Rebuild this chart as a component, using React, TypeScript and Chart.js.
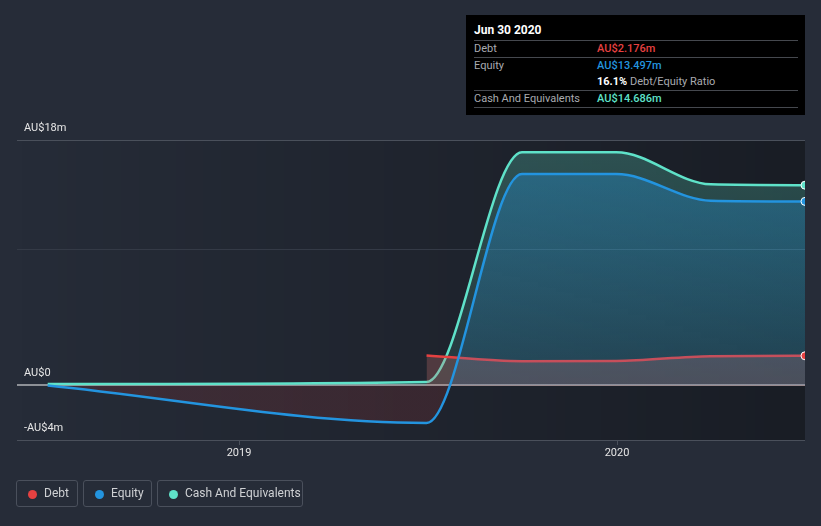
import React, { useEffect, useRef } from "react";
import { Chart, registerables } from "chart.js";

Chart.register(...registerables);

// ---- data ----
const dates = [2018.496, 2019.496, 2019.748, 2019.997, 2020.246, 2020.495];
const debtValues: (number | null)[] = [null, 2.2, 1.78, 1.8, 2.15, 2.176];
const equityValues = [0, -2.75, 15.5, 15.5, 13.55, 13.497];
const cashValues = [0.1, 0.25, 17.1, 17.1, 14.75, 14.686];

const yGridValues = [18, 10, 0, -4];
const yLabelValues = [18, 0, -4];
const yLabelTexts = ["AU$18m", "AU$0", "-AU$4m"];
const xTickValues = [2019, 2020];
const xTickLabels = ["2019", "2020"];

const X_MIN = 2018.415;
const X_MAX = 2020.495;
const Y_MIN = -4;
const Y_MAX = 18;

const DEBT_COLOR = "#e64141";
const EQUITY_COLOR = "#2394df";
const CASH_COLOR = "#5fe2c9";
const FONT = "Roboto, 'Open Sans', sans-serif";

const toPoints = (vals: (number | null)[]) => dates.map((d, i) => ({ x: d, y: vals[i] }));
const lastOnly = (r: number) => dates.map((_, i) => (i === dates.length - 1 ? r : 0));
const lastValueOnly = (vals: (number | null)[]) =>
  dates.map((d, i) => ({ x: d, y: i === dates.length - 1 ? vals[i] : null }));

// vertical gradient helper: stops given as [value, rgba string]
function vGradient(ctxArg: any, stops: [number, string][], fallback: string) {
  const chart = ctxArg.chart;
  const a = chart.chartArea;
  const y = chart.scales && chart.scales.y;
  if (!a || !y) return fallback;
  const g = chart.ctx.createLinearGradient(0, a.top, 0, a.bottom);
  const h = a.bottom - a.top;
  stops.forEach(([v, c]) => {
    const p = Math.min(1, Math.max(0, (y.getPixelForValue(v) - a.top) / h));
    g.addColorStop(p, c);
  });
  return g;
}

const decorPlugin = {
  id: "decor",
  beforeDraw(chart: any) {
    const { ctx, chartArea: a } = chart;
    ctx.save();
    const g = ctx.createLinearGradient(a.left, 0, a.right, 0);
    g.addColorStop(0, "rgba(0,0,0,0)");
    g.addColorStop(1, "rgba(0,0,0,0.34)");
    ctx.fillStyle = g;
    ctx.fillRect(a.left, a.top, a.right - a.left, a.bottom - a.top);
    ctx.restore();
  },
  beforeDatasetsDraw(chart: any) {
    const { ctx, chartArea: a, scales } = chart;
    const y = scales.y;
    ctx.save();
    yGridValues.forEach((v) => {
      const py = Math.round(y.getPixelForValue(v));
      if (v === 0) {
        ctx.strokeStyle = "#8d9096";
        ctx.lineWidth = 2;
        ctx.beginPath();
        ctx.moveTo(a.left, py);
        ctx.lineTo(a.right, py);
        ctx.stroke();
      } else {
        ctx.strokeStyle = v === 10 ? "#343a46" : "#4a505b";
        ctx.lineWidth = 1;
        ctx.beginPath();
        ctx.moveTo(a.left, py + 0.5);
        ctx.lineTo(a.right, py + 0.5);
        ctx.stroke();
      }
    });
    ctx.restore();
  },
  afterDraw(chart: any) {
    const { ctx, chartArea: a, scales } = chart;
    const x = scales.x;
    const y = scales.y;
    ctx.save();
    ctx.font = `11px ${FONT}`;
    ctx.fillStyle = "#e6e6e6";
    ctx.textAlign = "left";
    ctx.textBaseline = "middle";
    yLabelValues.forEach((v, i) => {
      ctx.fillText(yLabelTexts[i], 24, y.getPixelForValue(v) - 12);
    });
    ctx.textAlign = "center";
    xTickValues.forEach((v, i) => {
      const px = Math.round(x.getPixelForValue(v));
      ctx.strokeStyle = "#4a505b";
      ctx.lineWidth = 1;
      ctx.beginPath();
      ctx.moveTo(px + 0.5, a.bottom);
      ctx.lineTo(px + 0.5, a.bottom + 5);
      ctx.stroke();
      ctx.fillText(xTickLabels[i], px, a.bottom + 13);
    });
    ctx.restore();
  },
};

function ChartCanvas() {
  const ref = useRef<HTMLCanvasElement | null>(null);
  useEffect(() => {
    if (!ref.current) return;
    const chart = new Chart(ref.current, {
      type: "line",
      data: {
        datasets: [
          {
            label: "Debt",
            data: toPoints(debtValues),
            borderColor: DEBT_COLOR,
            borderWidth: 2.5,
            backgroundColor: "rgba(207,115,113,0.28)",
            fill: "origin",
            pointRadius: 0,
            cubicInterpolationMode: "monotone",
            order: 1,
          },
          {
            label: "Equity",
            data: toPoints(equityValues),
            borderColor: EQUITY_COLOR,
            borderWidth: 2.5,
            backgroundColor: (c: any) =>
              vGradient(
                c,
                [
                  [18, "rgba(35,148,223,0.36)"],
                  [0.001, "rgba(35,148,223,0.14)"],
                  [-0.001, "rgba(230,65,65,0.13)"],
                  [-4, "rgba(230,65,65,0.13)"],
                ],
                "rgba(35,148,223,0.28)"
              ),
            fill: "origin",
            pointRadius: lastOnly(4),
            pointBackgroundColor: EQUITY_COLOR,
            pointBorderColor: "#ffffff",
            pointBorderWidth: 1,
            cubicInterpolationMode: "monotone",
            order: 0,
          },
          {
            label: "Cash And Equivalents",
            data: toPoints(cashValues),
            borderColor: CASH_COLOR,
            borderWidth: 2.5,
            backgroundColor: (c: any) =>
              vGradient(
                c,
                [
                  [18, "rgba(95,226,201,0.26)"],
                  [0, "rgba(95,226,201,0.1)"],
                  [-4, "rgba(95,226,201,0.1)"],
                ],
                "rgba(95,226,201,0.2)"
              ),
            fill: "origin",
            pointRadius: lastOnly(4),
            pointBackgroundColor: CASH_COLOR,
            pointBorderColor: "#ffffff",
            pointBorderWidth: 1,
            cubicInterpolationMode: "monotone",
            order: 2,
          },
          {
            label: "Debt marker",
            data: lastValueOnly(debtValues),
            showLine: false,
            fill: false,
            pointRadius: 4,
            pointBackgroundColor: DEBT_COLOR,
            pointBorderColor: "#ffffff",
            pointBorderWidth: 1,
            order: -1,
          },
        ] as any,
      },
      options: {
        animation: false,
        responsive: false,
        devicePixelRatio: 1,
        layout: { padding: { left: 17, right: 16, top: 140, bottom: 86 } },
        scales: {
          x: { type: "linear", min: X_MIN, max: X_MAX, display: false },
          y: { type: "linear", min: Y_MIN, max: Y_MAX, display: false },
        },
        plugins: {
          legend: { display: false },
          tooltip: { enabled: false },
        },
        events: [],
      } as any,
      plugins: [decorPlugin],
    });
    return () => chart.destroy();
  }, []);
  return <canvas ref={ref} width={821} height={526} style={{ position: "absolute", left: 0, top: 0 }} />;
}

const abs = (left: number, top: number, extra: React.CSSProperties = {}): React.CSSProperties => ({
  position: "absolute",
  left,
  top,
  whiteSpace: "nowrap",
  ...extra,
});

function TooltipBox() {
  const label: React.CSSProperties = { color: "#a9abb0", fontSize: 11, lineHeight: "14px" };
  const sep = (top: number) => (
    <div style={abs(8, top, { width: 324, height: 1, background: "#45484e" })} />
  );
  return (
    <div style={abs(466, 15, { width: 339, height: 100, background: "#000000", fontFamily: FONT })}>
      <div style={abs(8, 8, { color: "#ffffff", fontSize: 12, fontWeight: 700, lineHeight: "14px" })}>Jun 30 2020</div>
      {sep(25)}
      <div style={abs(8, 27, label)}>Debt</div>
      <div style={abs(131, 27, { ...label, color: DEBT_COLOR, fontWeight: 500 })}>AU$2.176m</div>
      {sep(42)}
      <div style={abs(8, 44, label)}>Equity</div>
      <div style={abs(131, 44, { ...label, color: EQUITY_COLOR, fontWeight: 500 })}>AU$13.497m</div>
      <div style={abs(131, 60, label)}>
        <span style={{ color: "#ffffff", fontWeight: 700 }}>16.1%</span> Debt/Equity Ratio
      </div>
      {sep(75)}
      <div style={abs(8, 77, label)}>Cash And Equivalents</div>
      <div style={abs(131, 77, { ...label, color: CASH_COLOR, fontWeight: 500 })}>AU$14.686m</div>
      {sep(92)}
    </div>
  );
}

const legendItems = [
  { label: "Debt", color: DEBT_COLOR, left: 16, width: 62 },
  { label: "Equity", color: EQUITY_COLOR, left: 83, width: 69 },
  { label: "Cash And Equivalents", color: CASH_COLOR, left: 157, width: 146 },
];

function Legend() {
  return (
    <>
      {legendItems.map((it) => (
        <div
          key={it.label}
          style={abs(it.left, 480, {
            width: it.width,
            height: 27,
            boxSizing: "border-box",
            border: "1px solid #4a505c",
            borderRadius: 3,
            fontFamily: FONT,
          })}
        >
          <div
            style={abs(11, 8.5, { width: 9, height: 9, borderRadius: "50%", background: it.color })}
          />
          <div style={abs(27, 5, { color: "#cfd1d4", fontSize: 12, lineHeight: "15px" })}>{it.label}</div>
        </div>
      ))}
    </>
  );
}

export default function App() {
  return (
    <div
      style={{
        position: "absolute",
        left: 0,
        top: 0,
        width: 821,
        height: 526,
        background: "#262c38",
        overflow: "hidden",
      }}
    >
      <ChartCanvas />
      <TooltipBox />
      <Legend />
    </div>
  );
}
